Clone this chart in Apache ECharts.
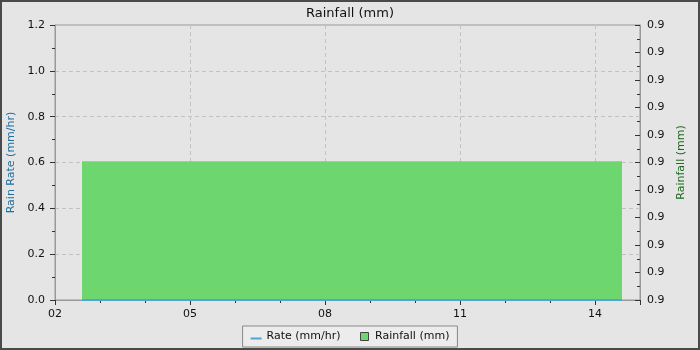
<!DOCTYPE html>
<html>
<head>
<meta charset="utf-8">
<script src="https://cdn.jsdelivr.net/npm/echarts@6/dist/echarts.min.js"></script>
<style>
html,body{margin:0;padding:0;background:#e5e5e5;}
#chart{width:700px;height:350px;}
</style>
</head>
<body>
<div id="chart"></div>
<script>
// day of month (x) and values
var rateDays = [2.6, 14.6];
var rateValues = [0, 0];
var rainDays = [2.6, 14.6];
var rainValues = [0.90505, 0.90505];

function pairs(xs, ys){
    var out = [];
    for (var i = 0; i < xs.length; i++) out.push([xs[i], ys[i]]);
    return out;
}

var chart = echarts.init(document.getElementById('chart'));
chart.setOption({
    backgroundColor:'#e5e5e5',
    animation:false,
    textStyle:{fontFamily:'DejaVu Sans'},
    title:{
        text:'Rainfall (mm)',
        left:'center',
        top:2,
        textStyle:{fontSize:13,fontWeight:'normal',color:'#111',fontFamily:'DejaVu Sans'}
    },
    graphic:[{
        type:'rect',
        shape:{x:1,y:1,width:698,height:348},
        style:{fill:'none',stroke:'#4a4a4a',lineWidth:2},
        silent:true
    }],
    grid:{left:55,right:60,top:25,bottom:50,outerBoundsMode:'none',containLabel:false,
          show:true,borderColor:'#999',borderWidth:1},
    legend:{
        bottom:3,
        left:'center',
        padding:[5,8,5,8],
        itemGap:18,
        itemWidth:11,
        itemHeight:8,
        borderColor:'#888',
        borderWidth:1,
        borderRadius:0,
        backgroundColor:'#ececec',
        textStyle:{fontSize:11,color:'#111'},
        data:[
            {name:'Rate (mm/hr)',icon:'path://M0,0 L0,0 M11,0 L11,0 M0,8 L0,8 M0,5 L11,5 L11,7 L0,7 Z',
             itemStyle:{color:'#4fa6d6',borderWidth:0}},
            {name:'Rainfall (mm)',icon:'path://M0,0 L0,0 M11,0 L11,0 M1.5,0 L9.5,0 L9.5,8 L1.5,8 Z',
             itemStyle:{color:'#6ed66f',borderColor:'#444',borderWidth:1}}
        ]
    },
    xAxis:{
        type:'value',
        min:2, max:15, interval:3,
        minorTick:{show:true,splitNumber:3,length:3,lineStyle:{color:'#333'}},
        axisLine:{lineStyle:{color:'#999'}},
        axisTick:{length:5,lineStyle:{color:'#333'}},
        axisLabel:{fontSize:11,color:'#111',margin:9,showMaxLabel:false,
            formatter:function(v){ return (v < 10 ? '0' : '') + v; }},
        splitLine:{show:true,lineStyle:{color:'#c2c2c2',type:[4,3]}}
    },
    yAxis:[{
        type:'value',
        min:0, max:1.2, interval:0.2,
        name:'Rain Rate (mm/hr)',
        nameLocation:'middle',
        nameRotate:90,
        nameGap:33,
        nameTextStyle:{color:'#1e6e9e',fontSize:11},
        axisLine:{show:true,lineStyle:{color:'#999'}},
        axisTick:{show:true,length:5,lineStyle:{color:'#333'}},
        minorTick:{show:true,splitNumber:2,length:3,lineStyle:{color:'#333'}},
        axisLabel:{fontSize:11,color:'#111',margin:10,formatter:function(v){return v.toFixed(1);}},
        splitLine:{show:true,lineStyle:{color:'#c2c2c2',type:[4,3]}}
    },{
        type:'value',
        min:0.9, max:0.91, interval:0.001,
        name:'Rainfall (mm)',
        nameLocation:'middle',
        nameRotate:90,
        nameGap:33,
        nameTextStyle:{color:'#1b6a1b',fontSize:11},
        axisLine:{show:true,lineStyle:{color:'#999'}},
        axisTick:{show:true,inside:true,length:5,lineStyle:{color:'#333'}},
        minorTick:{show:true,splitNumber:2,length:3,lineStyle:{color:'#333'}},
        axisLabel:{fontSize:11,color:'#111',margin:7,formatter:function(v){return v.toFixed(1);}},
        splitLine:{show:false}
    }],
    series:[{
        name:'Rainfall (mm)',
        type:'line',
        yAxisIndex:1,
        symbol:'none',
        color:'#6ed66f',
        lineStyle:{width:0,color:'#6ed66f'},
        areaStyle:{color:'#6ed66f',opacity:1,origin:'start'},
        data:pairs(rainDays, rainValues),
        z:2
    },{
        name:'Rate (mm/hr)',
        type:'line',
        symbol:'none',
        color:'#4fa6d6',
        lineStyle:{width:2,color:'#4fa6d6'},
        data:pairs(rateDays, rateValues),
        z:3
    }]
});
</script>
</body>
</html>
